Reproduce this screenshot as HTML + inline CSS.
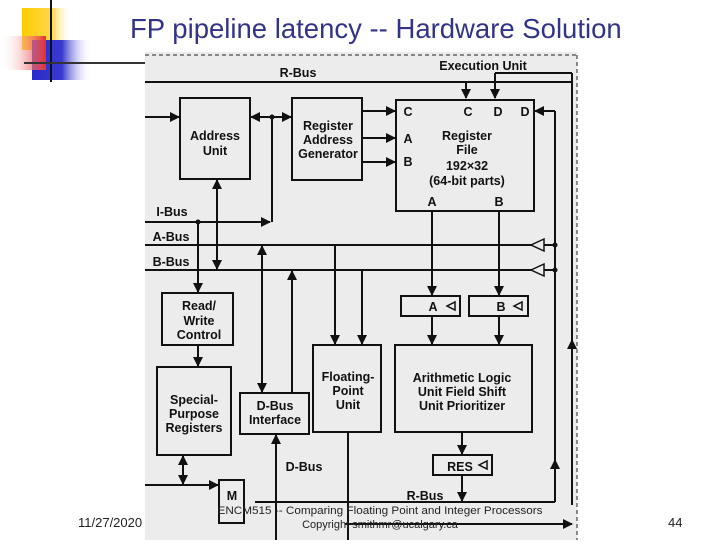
<!DOCTYPE html>
<html><head><meta charset="utf-8"><style>
body{margin:0;width:720px;height:540px;overflow:hidden;background:#fff;font-family:"Liberation Sans",sans-serif}
</style></head><body>
<svg width="720" height="540" viewBox="0 0 720 540" xmlns="http://www.w3.org/2000/svg" font-family="Liberation Sans, sans-serif">
<defs>
<linearGradient id="gy" x1="0" x2="1"><stop offset="0" stop-color="#ffcc00"/><stop offset="0.6" stop-color="#ffd84a"/><stop offset="1" stop-color="#fff" stop-opacity="0"/></linearGradient>
<linearGradient id="gr" x1="1" x2="0"><stop offset="0" stop-color="#e83030"/><stop offset="1" stop-color="#fff" stop-opacity="0"/></linearGradient>
<linearGradient id="gb" x1="0" x2="1"><stop offset="0" stop-color="#2a2acc"/><stop offset="0.5" stop-color="#3a3ad0"/><stop offset="1" stop-color="#fff" stop-opacity="0"/></linearGradient>
<marker id="a" viewBox="0 0 10 10" refX="9" refY="5" markerWidth="5" markerHeight="5" orient="auto-start-reverse"><path d="M0,0L10,5L0,10z" fill="#111"/></marker>
</defs>
<rect x="22" y="8" width="50" height="42" fill="url(#gy)"/>
<rect x="32" y="40" width="60" height="40" fill="url(#gb)"/>
<rect x="0" y="36" width="46" height="34" fill="url(#gr)"/>
<line x1="51" y1="0" x2="51" y2="82" stroke="#111" stroke-width="2"/>
<line x1="24" y1="63" x2="150" y2="63" stroke="#333" stroke-width="2"/>
<text x="130" y="38" font-size="27.5" fill="#333388">FP pipeline latency -- Hardware Solution</text>
<rect x="145" y="52" width="432" height="488" fill="#ececec"/>
<line x1="145" y1="55" x2="577" y2="55" stroke="#222" stroke-dasharray="4,3"/>
<line x1="577" y1="55" x2="577" y2="540" stroke="#222" stroke-dasharray="4,3"/>
<g stroke="#111" stroke-width="2" fill="none">
<rect x="180" y="98" width="70" height="81"/>
<rect x="292" y="98" width="70" height="82"/>
<rect x="396" y="100" width="138" height="111"/>
<rect x="162" y="293" width="71" height="52"/>
<rect x="157" y="367" width="74" height="88"/>
<rect x="240" y="393" width="69" height="41"/>
<rect x="313" y="345" width="68" height="87"/>
<rect x="395" y="345" width="137" height="87"/>
<rect x="401" y="296" width="59" height="20"/>
<rect x="469" y="296" width="59" height="20"/>
<rect x="433" y="455" width="59" height="20"/>
<rect x="219" y="480" width="25" height="43"/>
<line x1="145" y1="82" x2="572" y2="82"/>
<line x1="572" y1="73" x2="572" y2="505"/>
<line x1="495" y1="73" x2="572" y2="73"/>
<line x1="495" y1="73" x2="495" y2="98" marker-end="url(#a)"/>
<line x1="466" y1="82" x2="466" y2="98" marker-end="url(#a)"/>
<line x1="145" y1="117" x2="179" y2="117" marker-end="url(#a)"/>
<line x1="251" y1="117" x2="291" y2="117" marker-start="url(#a)" marker-end="url(#a)"/>
<line x1="272" y1="117" x2="272" y2="222"/>
<line x1="145" y1="222" x2="270" y2="222" marker-end="url(#a)"/>
<line x1="362" y1="111" x2="395" y2="111" marker-end="url(#a)"/>
<line x1="362" y1="138" x2="395" y2="138" marker-end="url(#a)"/>
<line x1="362" y1="162" x2="395" y2="162" marker-end="url(#a)"/>
<line x1="217" y1="180" x2="217" y2="269" marker-start="url(#a)" marker-end="url(#a)"/>
<line x1="145" y1="245" x2="555" y2="245"/>
<line x1="145" y1="270" x2="555" y2="270"/>
<line x1="555" y1="111" x2="555" y2="502"/>
<line x1="555" y1="111" x2="535" y2="111" marker-end="url(#a)"/>
<line x1="432" y1="211" x2="432" y2="295" marker-end="url(#a)"/>
<line x1="499" y1="211" x2="499" y2="295" marker-end="url(#a)"/>
<line x1="432" y1="316" x2="432" y2="344" marker-end="url(#a)"/>
<line x1="499" y1="316" x2="499" y2="344" marker-end="url(#a)"/>
<line x1="198" y1="222" x2="198" y2="292" marker-end="url(#a)"/>
<line x1="198" y1="345" x2="198" y2="366" marker-end="url(#a)"/>
<line x1="262" y1="392" x2="262" y2="246" marker-end="url(#a)"/>
<line x1="292" y1="392" x2="292" y2="271" marker-end="url(#a)"/>
<line x1="262" y1="340" x2="262" y2="392" marker-end="url(#a)"/>
<line x1="335" y1="245" x2="335" y2="344" marker-end="url(#a)"/>
<line x1="362" y1="270" x2="362" y2="344" marker-end="url(#a)"/>
<line x1="183" y1="456" x2="183" y2="484" marker-start="url(#a)" marker-end="url(#a)"/>
<line x1="145" y1="485" x2="218" y2="485" marker-end="url(#a)"/>
<line x1="276" y1="540" x2="276" y2="435" marker-end="url(#a)"/>
<line x1="348" y1="432" x2="348" y2="540"/>
<line x1="462" y1="432" x2="462" y2="454" marker-end="url(#a)"/>
<line x1="462" y1="475" x2="462" y2="501" marker-end="url(#a)"/>
<line x1="255" y1="502" x2="555" y2="502"/>
<line x1="555" y1="502" x2="555" y2="460" marker-end="url(#a)"/>
<line x1="345" y1="524" x2="572" y2="524" marker-end="url(#a)"/>
<line x1="572" y1="400" x2="572" y2="340" marker-end="url(#a)"/>
</g>
<g fill="#ececec" stroke="#111" stroke-width="1.5">
<path d="M531,245L544,239L544,251z"/>
<path d="M531,270L544,264L544,276z"/>
<path d="M447,306L455,302L455,310z"/>
<path d="M514,306L522,302L522,310z"/>
<path d="M479,465L487,461L487,469z"/>
</g>
<g fill="#111"><circle cx="272" cy="117" r="2.5"/><circle cx="198" cy="222" r="2.5"/><circle cx="555" cy="245" r="2.5"/><circle cx="555" cy="270" r="2.5"/></g>
<g font-size="12.5" font-weight="bold" fill="#111" text-anchor="middle">
<text x="298" y="77">R-Bus</text>
<text x="483" y="70">Execution Unit</text>
<text x="215" y="140">Address</text><text x="215" y="155">Unit</text>
<text x="328" y="130">Register</text><text x="328" y="144">Address</text><text x="328" y="158">Generator</text>
<text x="408" y="116">C</text><text x="408" y="143">A</text><text x="408" y="166">B</text>
<text x="468" y="116">C</text><text x="498" y="116">D</text><text x="525" y="116">D</text>
<text x="467" y="140">Register</text><text x="467" y="154">File</text><text x="467" y="170">192×32</text><text x="467" y="185">(64-bit parts)</text>
<text x="432" y="206">A</text><text x="499" y="206">B</text>
<text x="172" y="216">I-Bus</text><text x="171" y="241">A-Bus</text><text x="171" y="266">B-Bus</text>
<text x="433" y="311">A</text><text x="501" y="311">B</text>
<text x="199" y="310">Read/</text><text x="199" y="325">Write</text><text x="199" y="339">Control</text>
<text x="194" y="404">Special-</text><text x="194" y="418">Purpose</text><text x="194" y="432">Registers</text>
<text x="275" y="410">D-Bus</text><text x="275" y="424">Interface</text>
<text x="348" y="381">Floating-</text><text x="348" y="395">Point</text><text x="348" y="409">Unit</text>
<text x="462" y="382">Arithmetic Logic</text><text x="462" y="396">Unit Field Shift</text><text x="462" y="410">Unit Prioritizer</text>
<text x="460" y="471">RES</text>
<text x="304" y="471">D-Bus</text>
<text x="425" y="500">R-Bus</text>
<text x="232" y="500">M</text>
</g>
<text x="78" y="527" font-size="13" fill="#222">11/27/2020</text>
<text x="380" y="514" font-size="11" fill="#222" text-anchor="middle" textLength="325" lengthAdjust="spacingAndGlyphs">ENCM515 -- Comparing Floating Point and Integer Processors</text>
<text x="380" y="528" font-size="11" fill="#222" text-anchor="middle">Copyright smithmr@ucalgary.ca</text>
<text x="668" y="527" font-size="13" fill="#222">44</text>
</svg>
</body></html>
